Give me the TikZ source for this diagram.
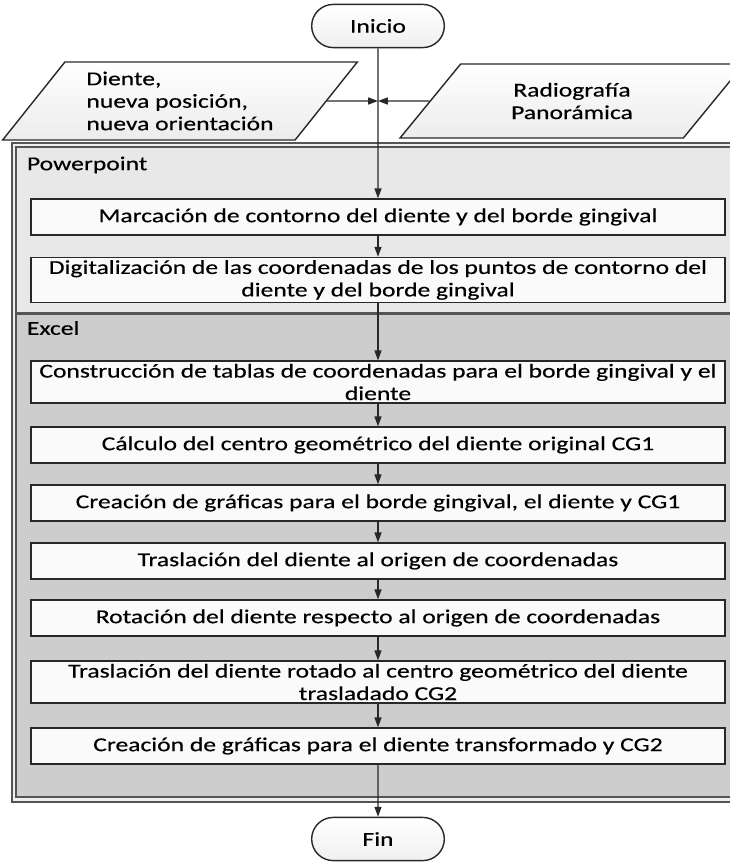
\documentclass[tikz,border=0pt]{standalone}
\usepackage{fontspec}
\setmainfont{Carlito}[FakeStretch=1.3, FakeBold=0.4]
\usetikzlibrary{shapes.geometric, shapes.misc, arrows.meta, positioning}
\definecolor{LaneLight}{RGB}{232, 232, 232}
\definecolor{LaneDark}{RGB}{205, 205, 205}
\definecolor{FrameGray}{RGB}{85, 85, 85}
\definecolor{LineDark}{RGB}{40, 40, 40}

\begin{document}
\begin{tikzpicture}[x=0.025cm, y=-0.025cm,
        every node/.style={font=\fontsize{14}{16}\selectfont, text=black},
        terminal/.style={rounded rectangle, draw=LineDark, line width=1pt, minimum width=3.55cm,
                         minimum height=1.08cm, top color=white, bottom color=gray!12},
        datain/.style={trapezium, trapezium left angle=52, trapezium right angle=128,
                       trapezium stretches=true, draw=LineDark, line width=1pt,
                       top color=white, bottom color=gray!15},
        process/.style={draw=LineDark, line width=1pt, fill=gray!4, minimum width=17.35cm,
                        minimum height=0.9cm, align=center, inner sep=2pt},
        lanetitle/.style={anchor=west},
        arrow/.style={-{Triangle[length=7pt, width=5pt]}, line width=0.8pt, LineDark}]

    \useasboundingbox (0, 0) rectangle (730, 863);

    % Swimlanes
    \draw[FrameGray, line width=0.8pt, fill=LaneLight!70] (12, 143) rectangle (760, 802);
    \draw[FrameGray, line width=0.8pt, fill=LaneLight] (16, 147) rectangle (760, 313);
    \draw[FrameGray, line width=0.8pt, fill=LaneDark] (16, 314) rectangle (760, 797);
    \node[lanetitle] (ppt) at (22, 165) {Powerpoint};
    \node[lanetitle] (xls) at (22, 328) {Excel};

    % Start and inputs
    \node[terminal] (inicio) at (378, 26) {Inicio};
    \node[datain, minimum width=8.875cm, minimum height=1.95cm, align=left] (diente) at (180, 101) {%
        Diente,\\nueva posición,\\nueva orientación};
    \node[datain, minimum width=8.6cm, minimum height=1.85cm, align=center] (radio) at (572, 101) {%
        Radiografía\\Panorámica};
    \coordinate (join) at (378, 101);

    % Powerpoint steps
    \node[process] (marca) at (378, 217) {Marcación de contorno del diente y del borde gingival};
    \node[process] (digit) at (378, 280) {%
        Digitalización de las coordenadas de los puntos de contorno del\\diente y del borde gingival};

    % Excel steps
    \node[process] (tablas) at (378, 382) {%
        Construcción de tablas de coordenadas para el borde gingival y el\\diente};
    \node[process] (cg1) at (378, 445) {Cálculo del centro geométrico del diente original CG1};
    \node[process] (graf1) at (378, 503) {Creación de gráficas para el borde gingival, el diente y CG1};
    \node[process] (trasl) at (378, 561) {Traslación del diente al origen de coordenadas};
    \node[process] (rot) at (378, 618) {Rotación del diente respecto al origen de coordenadas};
    \node[process] (trasl2) at (378, 682) {%
        Traslación del diente rotado al centro geométrico del diente\\trasladado CG2};
    \node[process] (graf2) at (378, 746) {Creación de gráficas para el diente transformado y CG2};

    % End
    \node[terminal] (fin) at (378, 839) {Fin};

    \draw[arrow] (inicio) -- (marca);
    \draw[arrow] (diente.east) -- (join);
    \draw[arrow] (radio.west) -- (join);
    \draw[arrow] (marca) -- (digit);
    \draw[arrow] (digit) -- (tablas);
    \draw[arrow] (tablas) -- (cg1);
    \draw[arrow] (cg1) -- (graf1);
    \draw[arrow] (graf1) -- (trasl);
    \draw[arrow] (trasl) -- (rot);
    \draw[arrow] (rot) -- (trasl2);
    \draw[arrow] (trasl2) -- (graf2);
    \draw[arrow] (graf2) -- (fin);
\end{tikzpicture}
\end{document}
